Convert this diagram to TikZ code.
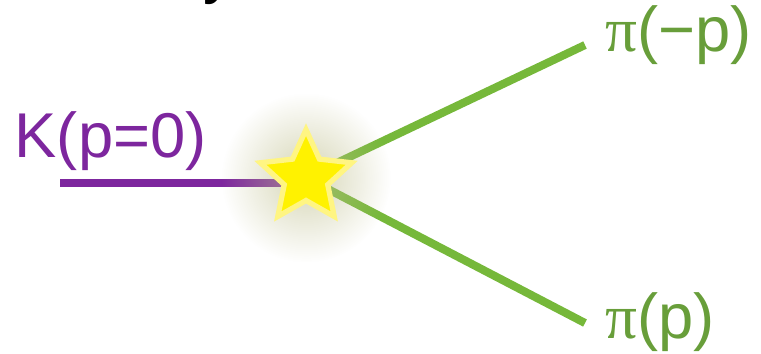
\documentclass[tikz,border=0pt]{standalone}
\usepackage{fontspec}
\setmainfont{Liberation Sans}
\newfontfamily\pifont{Liberation Serif}
\usetikzlibrary{shapes.geometric,fadings}
\definecolor{kpurple}{RGB}{125,38,158}
\definecolor{pigreen}{RGB}{118,184,58}
\definecolor{pitext}{RGB}{104,158,58}
\definecolor{starrim}{RGB}{255,245,130}
\definecolor{glowcol}{RGB}{190,190,140}
\tikzfading[name=glowfade,inner color=transparent!35,outer color=transparent!100]
\tikzset{
  kline/.style={draw=kpurple,line width=2.3pt},
  piline/.style={draw=pigreen,line width=2.3pt},
  lbl/.style={inner sep=0pt,anchor=base west,font=\fontsize{18pt}{21pt}\selectfont},
  burst/.style={star,star points=5,star point ratio=2.1,draw=starrim,fill=yellow,
                line width=1.5pt,minimum size=9.6mm,inner sep=0pt},
  every picture/.style={line cap=butt,line join=miter}}

\begin{document}
\begin{tikzpicture}[x=0.01cm,y=-0.01cm]
  \useasboundingbox (0,0) rectangle (761,353);
  \clip (0,0) rectangle (761,353);
  \node[lbl,black] (cut) at (203,-9){y};
  % decay vertex and free ends of the tracks
  \coordinate (decay) at (306,177.6);
  \coordinate (kin) at (60,183);
  \coordinate (upend) at (585,45); \coordinate (downend) at (585,323);
  \draw[kline] (kin) -- (kin -| decay);
  \draw[piline] (decay) -- (upend);
  \draw[piline] (decay) -- (downend);
  \fill[glowcol,path fading=glowfade] (decay) circle (0.85cm);
  \node[burst] (vtx) at (decay){};
  \node[lbl,kpurple] (kaon) at (14,157){K(p=0)};
  \node[lbl,pitext] (piup) at (605,51){{\pifont π}(−p)};
  \node[lbl,pitext] (pidown) at (605,338){{\pifont π}(p)};
\end{tikzpicture}
\end{document}
